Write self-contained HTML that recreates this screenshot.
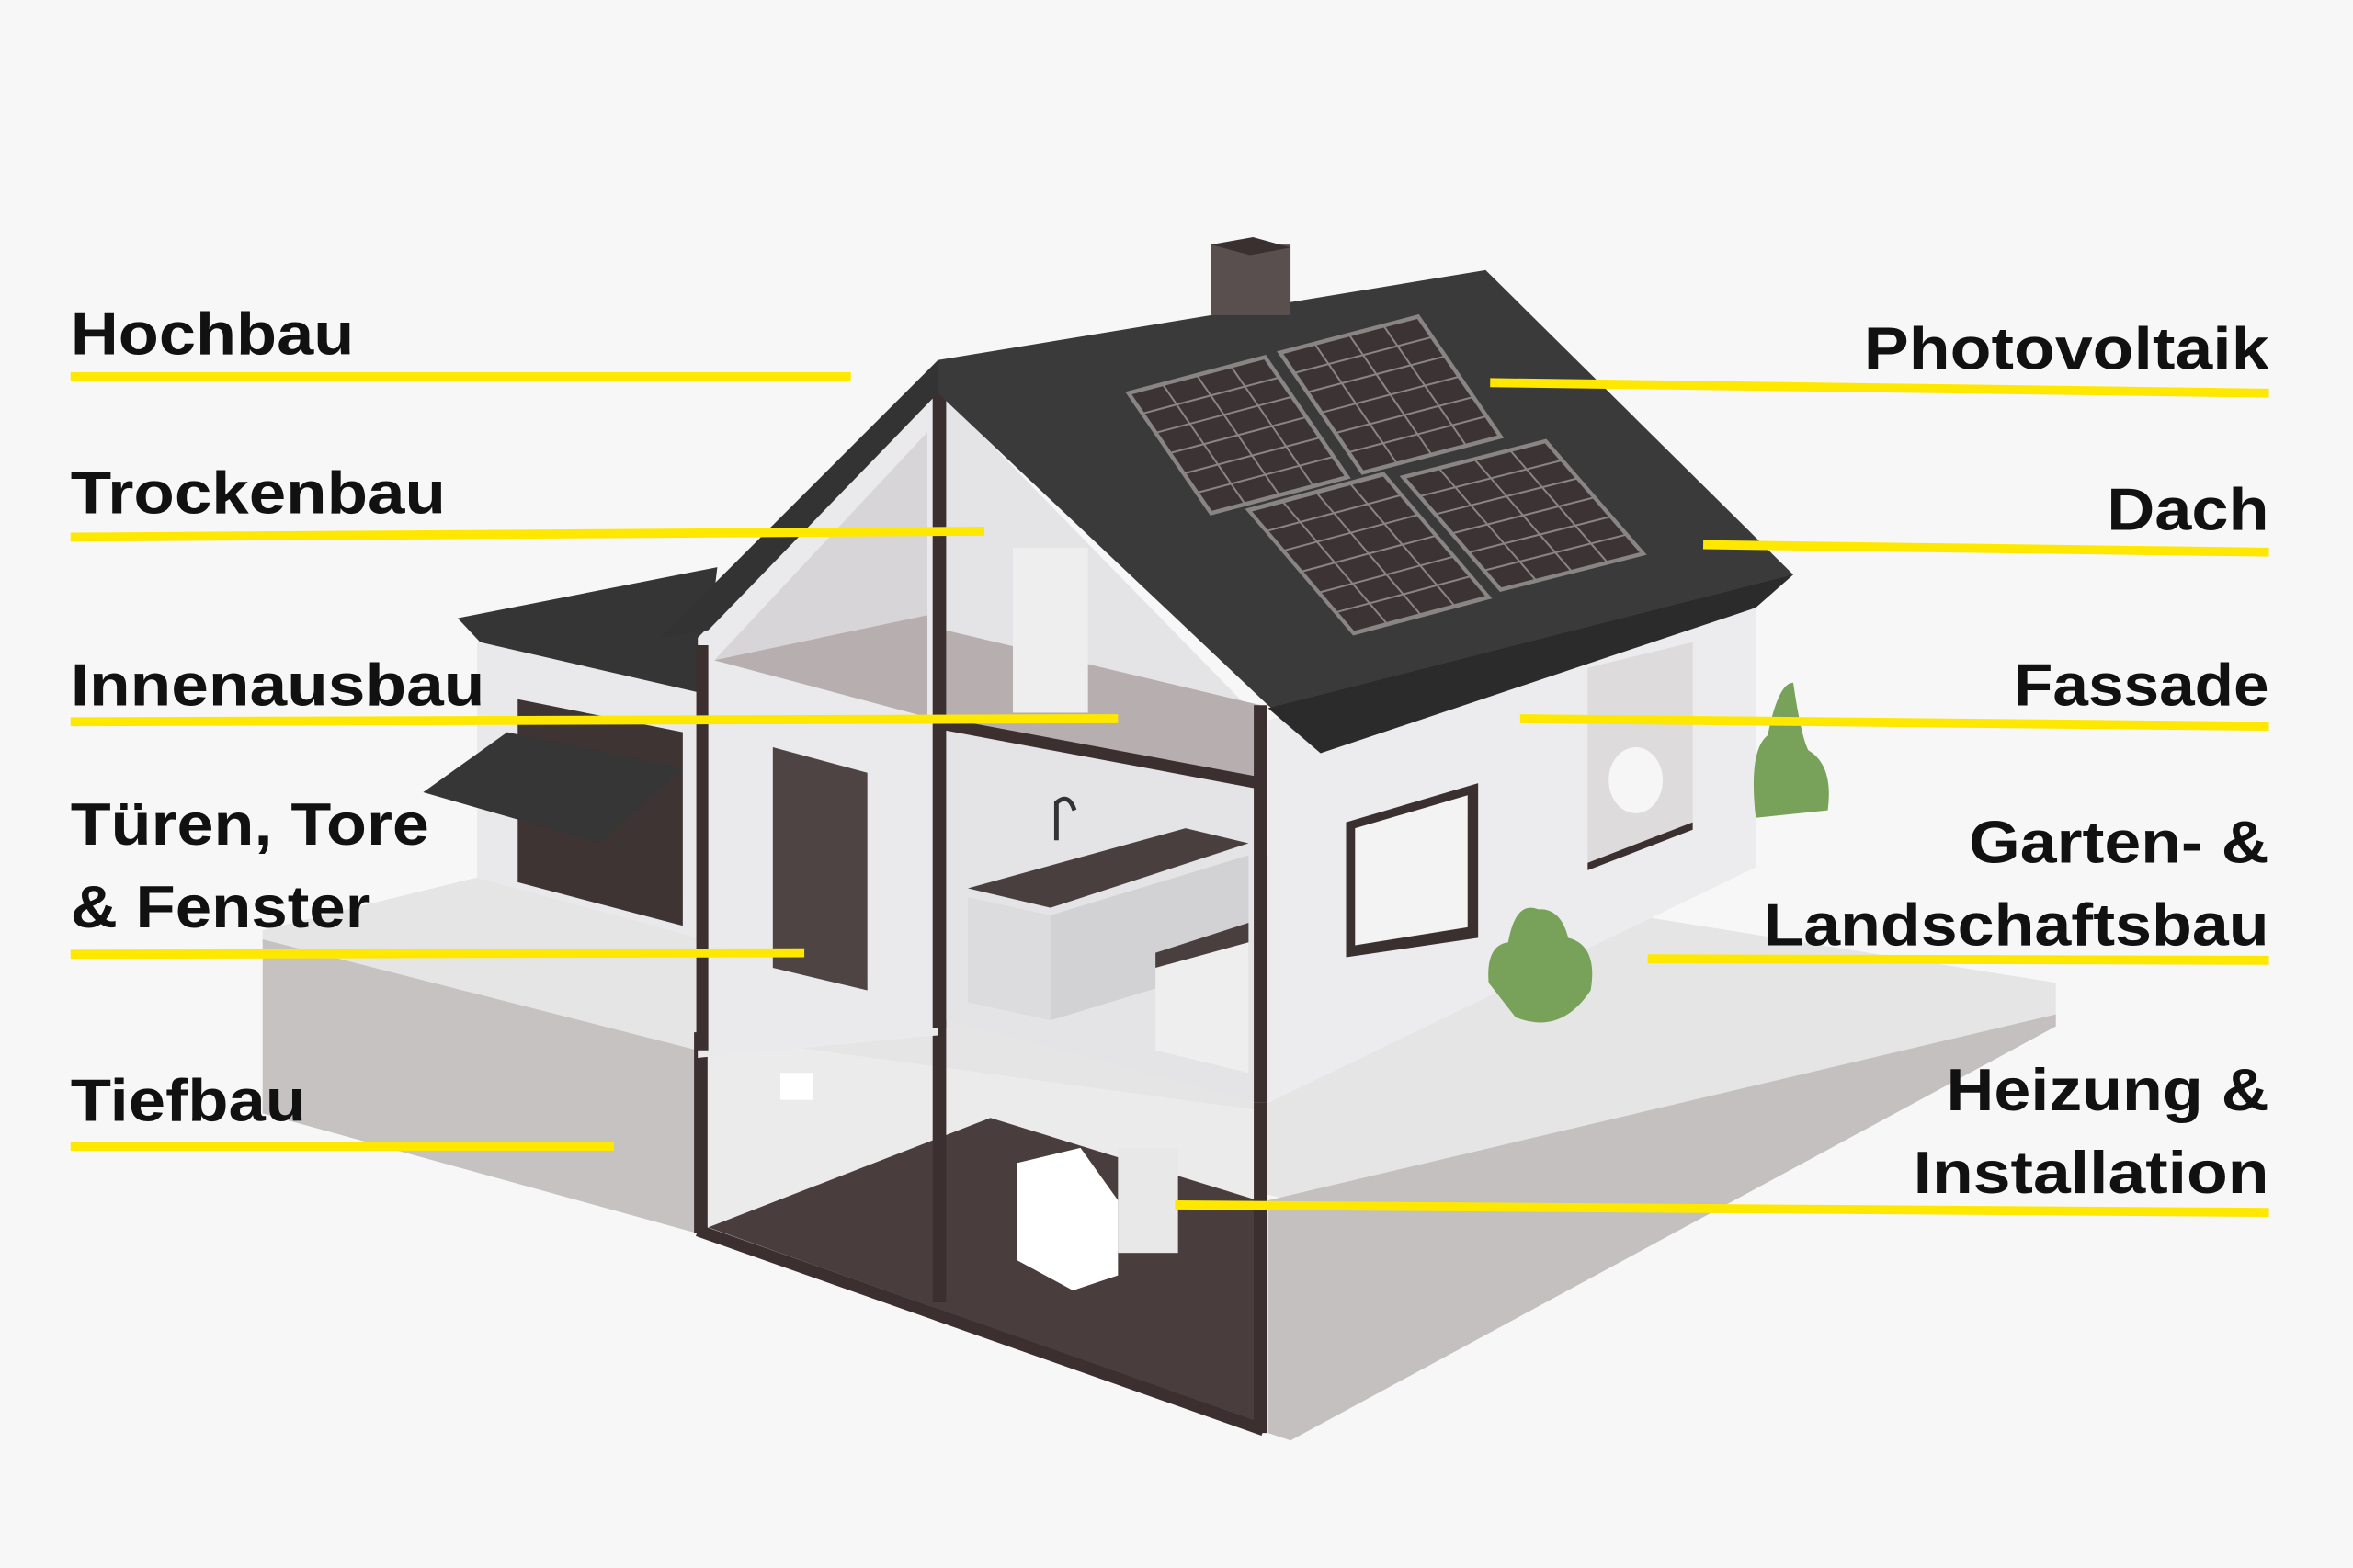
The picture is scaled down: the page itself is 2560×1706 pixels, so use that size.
<!DOCTYPE html>
<html><head><meta charset="utf-8"><style>
html,body{margin:0;padding:0;background:#f7f7f8;}
svg{display:block;}
text{font-family:"Liberation Sans",sans-serif;font-weight:bold;font-size:40px;fill:#111;}
</style></head><body>
<svg width="2560" height="1706" viewBox="0 0 1568 1045" preserveAspectRatio="none" xmlns="http://www.w3.org/2000/svg">
<rect width="1568" height="1045" fill="#f7f7f8"/>
<!-- slab -->
<polygon points="175,620 560,525 1370,655 1370,678 860,800 465,700 175,628" fill="#e6e5e6"/>
<polygon points="175,626 465,700 465,822 175,742" fill="#c7c2c2"/>
<polygon points="845,800 1370,676 1370,684 860,960 845,955" fill="#c5c0c0"/>
<!-- basement -->
<polygon points="470,690 840,740 840,950 470,818" fill="#ecebec"/>
<polygon points="472,818 660,745 838,800 838,948" fill="#4a3d3d"/>
<rect x="520" y="715" width="22" height="18" fill="#fff"/>
<polygon points="678,775 720,765 745,800 745,850 715,860 678,840" fill="#fff"/>
<rect x="745" y="765" width="40" height="70" fill="#e9e8e9"/>
<line x1="467" y1="688" x2="467" y2="822" stroke="#3b2f2f" stroke-width="9"/>
<line x1="626" y1="680" x2="626" y2="868" stroke="#3b2f2f" stroke-width="9"/>
<line x1="840" y1="735" x2="840" y2="955" stroke="#3b2f2f" stroke-width="9"/>
<line x1="465" y1="820" x2="842" y2="953" stroke="#3b2f2f" stroke-width="8"/>
<!-- left wing -->
<polygon points="318,428 465,455 465,625 318,585" fill="#e9e8ea"/>
<polygon points="345,466 455,488 455,617 345,588" fill="#3f3434"/>
<polygon points="305,412 478,378 468,462 320,428" fill="#353535"/>
<polygon points="282,528 338,488 455,512 400,562" fill="#363636"/>
<!-- left gable -->
<polygon points="465,425 625,262 625,690 465,705" fill="#eae9eb"/>
<polygon points="476,440 618,288 618,475 476,440" fill="#d7d5d7"/>
<polygon points="476,440 618,410 618,478" fill="#b7afaf"/>
<polygon points="515,498 578,515 578,660 515,645" fill="#4f4444"/>
<!-- cut interior -->
<polygon points="630,265 840,480 840,735 630,680" fill="#e4e3e5"/>
<polygon points="630,420 840,470 840,520 630,480" fill="#b7afaf"/>
<rect x="675" y="365" width="50" height="110" fill="#efeeef"/>
<polygon points="645,598 700,610 700,680 645,668" fill="#dcdbdd"/>
<polygon points="700,610 832,570 832,640 700,680" fill="#d2d1d3"/>
<polygon points="645,592 790,552 832,562 700,605" fill="#4a3f3f"/>
<polygon points="770,640 832,622 832,715 770,700" fill="#eeeeee"/>
<polygon points="770,635 832,615 832,628 770,645" fill="#4a3f3f"/>
<line x1="626" y1="255" x2="626" y2="685" stroke="#3b2f2f" stroke-width="9"/>
<line x1="626" y1="482" x2="840" y2="522" stroke="#3b2f2f" stroke-width="8"/>
<line x1="840" y1="470" x2="840" y2="735" stroke="#3b2f2f" stroke-width="9"/>
<line x1="468" y1="430" x2="468" y2="700" stroke="#3b2f2f" stroke-width="8"/>
<path d="M704,560 L704,535 Q712,528 716,540" stroke="#333" stroke-width="3" fill="none"/>
<!-- right facade -->
<polygon points="845,480 1170,398 1170,578 845,735" fill="#ececee"/>
<polygon points="897,548 985,522 985,625 897,638" fill="#3b3030"/>
<polygon points="903,552 978,530 978,618 903,630" fill="#f3f3f4"/>
<polygon points="1058,445 1128,428 1128,548 1058,575" fill="#dddbdc"/>
<polygon points="1058,575 1128,548 1128,553 1058,580" fill="#3b3030"/>
<ellipse cx="1090" cy="520" rx="18" ry="22" fill="#f6f6f6"/>
<!-- roof -->
<polygon points="625,240 990,180 1195,383 880,500 845,470 625,262" fill="#3a3a3a"/>
<polygon points="1195,383 1170,405 880,502 845,472" fill="#2b2b2b"/>
<polygon points="625,240 625,262 472,420 440,425" fill="#333"/>
<polygon points="807,163 860,163 860,210 807,210" fill="#5a4f4f"/>
<polygon points="807,163 835,158 860,165 833,170" fill="#3b3030"/>
<!-- panels -->
<g fill="#3c3434" stroke="#8a8585">
<g transform="matrix(91,-24,55,80,752,262)"><rect width="1" height="1" stroke-width="0.03"/><path d="M.25,0V1M.5,0V1M.75,0V1M0,.17H1M0,.33H1M0,.5H1M0,.67H1M0,.83H1" stroke-width="2" vector-effect="non-scaling-stroke"/></g>
<g transform="matrix(92,-24,55,80,853,235)"><rect width="1" height="1" stroke-width="0.03"/><path d="M.25,0V1M.5,0V1M.75,0V1M0,.17H1M0,.33H1M0,.5H1M0,.67H1M0,.83H1" stroke-width="2" vector-effect="non-scaling-stroke"/></g>
<g transform="matrix(90,-24,70,82,832,340)"><rect width="1" height="1" stroke-width="0.03"/><path d="M.25,0V1M.5,0V1M.75,0V1M0,.17H1M0,.33H1M0,.5H1M0,.67H1M0,.83H1" stroke-width="2" vector-effect="non-scaling-stroke"/></g>
<g transform="matrix(95,-24,65,75,935,318)"><rect width="1" height="1" stroke-width="0.03"/><path d="M.25,0V1M.5,0V1M.75,0V1M0,.17H1M0,.33H1M0,.5H1M0,.67H1M0,.83H1" stroke-width="2" vector-effect="non-scaling-stroke"/></g>
</g>
<!-- plants -->
<path d="M1170,545 Q1165,500 1178,490 Q1185,455 1195,455 Q1200,490 1205,500 Q1222,510 1218,540 Z" fill="#78a15a"/>
<path d="M992,655 Q990,630 1005,628 Q1010,600 1025,606 Q1040,605 1045,625 Q1065,630 1060,660 Q1040,690 1010,678 Z" fill="#78a15a"/>
<!-- yellow lines -->
<g stroke="#ffe800" stroke-width="6" fill="none">
<line x1="47" y1="251" x2="567" y2="251"/>
<line x1="47" y1="358" x2="656" y2="354"/>
<line x1="47" y1="481" x2="745" y2="479"/>
<line x1="47" y1="636" x2="536" y2="635"/>
<line x1="47" y1="764" x2="409" y2="764"/>
<line x1="993" y1="255" x2="1512" y2="262"/>
<line x1="1135" y1="363" x2="1512" y2="368"/>
<line x1="1013" y1="479" x2="1512" y2="484"/>
<line x1="1098" y1="639" x2="1512" y2="640"/>
<line x1="783" y1="803" x2="1512" y2="808"/>
</g>
<!-- labels -->
<text x="47" y="236" textLength="189" lengthAdjust="spacingAndGlyphs">Hochbau</text>
<text x="47" y="342" textLength="250" lengthAdjust="spacingAndGlyphs">Trockenbau</text>
<text x="47" y="470" textLength="276" lengthAdjust="spacingAndGlyphs">Innenausbau</text>
<text x="47" y="563" textLength="239" lengthAdjust="spacingAndGlyphs">Türen, Tore</text>
<text x="47" y="618" textLength="200" lengthAdjust="spacingAndGlyphs">&amp; Fenster</text>
<text x="47" y="747" textLength="157" lengthAdjust="spacingAndGlyphs">Tiefbau</text>
<text x="1242" y="246" textLength="270" lengthAdjust="spacingAndGlyphs">Photovoltaik</text>
<text x="1404" y="353" textLength="108" lengthAdjust="spacingAndGlyphs">Dach</text>
<text x="1342" y="470" textLength="170" lengthAdjust="spacingAndGlyphs">Fassade</text>
<text x="1312" y="575" textLength="200" lengthAdjust="spacingAndGlyphs">Garten- &amp;</text>
<text x="1175" y="630" textLength="337" lengthAdjust="spacingAndGlyphs">Landschaftsbau</text>
<text x="1297" y="740" textLength="215" lengthAdjust="spacingAndGlyphs">Heizung &amp;</text>
<text x="1275" y="795" textLength="237" lengthAdjust="spacingAndGlyphs">Installation</text>
</svg>
</body></html>
